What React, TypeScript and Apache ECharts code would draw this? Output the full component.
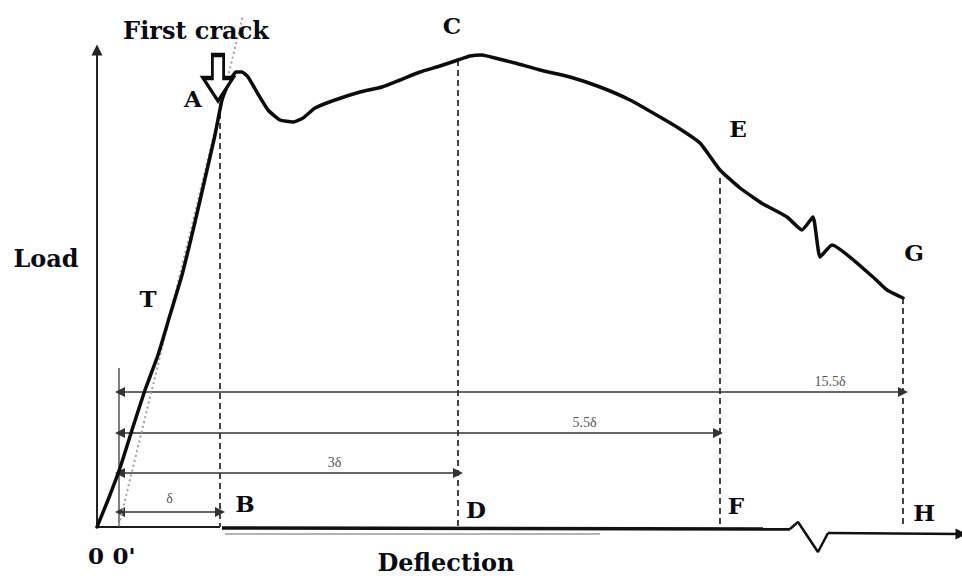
import React, { useEffect, useRef } from 'react';
import * as echarts from 'echarts';

// Load–deflection curve (schematic units: deflection → right, load → up)
const curveDeflection = [0, 11, 23, 35, 48, 61, 73, 85, 98, 110, 118, 125, 132, 139, 145, 151, 161, 171, 183, 196, 206, 218, 238, 263, 285, 303, 323, 343, 361, 373, 385, 398, 418, 443, 473, 503, 533, 563, 583, 603, 623, 643, 660, 666, 690, 705, 716, 723, 735, 776, 790, 806];
const curveLoad = [0, 27, 59, 97, 137, 172, 212, 252, 305, 357, 392, 427, 445, 455, 455, 450, 433, 417, 407, 405, 409, 419, 427, 435, 440, 447, 455, 461, 467, 471, 472, 469, 464, 457, 450, 440, 427, 410, 398, 384, 357, 339, 327, 323, 310, 297, 310, 270, 282, 250, 237, 229];

// Tangent (initial stiffness) line from O'
const tangentDeflection = [22, 146];
const tangentLoad = [2, 512];

// Vertical drop lines at B, D, F, H
const dropDeflection = [123, 361, 623, 806];
const dropLoad = [424, 467, 349, 229];

// Dimension arrows measured from O'
const dimOrigin = 22;
const dimLabels = ['δ', '3δ', '5.5δ', '15.5δ'];
const dimEnd = [123, 361, 621, 806];
const dimLevel = [15, 54, 94, 135];

// Point labels
const pointNames = ['A', 'C', 'E', 'G', 'T', 'B', 'D', 'F', 'H', '0', "0'"];
const pointPos: number[][] = [[96, 429], [355, 502], [641, 399], [817, 275], [51, 229], [148, 24], [379, 18], [639, 22], [827, 15], [-1, -28], [27, -28]];

const titleText = 'First crack';
const yTitle = 'Load';
const xTitle = 'Deflection';

const INK = '#0a0a14';
const SERIF = '"DejaVu Serif", "Liberation Serif", serif';

export default function App() {
  const ref = useRef<HTMLDivElement>(null);
  useEffect(() => {
    if (!ref.current) return;
    const chart = echarts.init(ref.current, undefined, { renderer: 'svg' });

    const hidden = { color: 'rgba(0,0,0,0)', opacity: 1 };
    const boldLabel = {
      show: true,
      position: 'inside',
      formatter: '{b}',
      fontFamily: SERIF,
      fontWeight: 'bold',
      fontSize: 23,
      color: INK,
      opacity: 1,
      textBorderWidth: 0,
    };

    const option: any = {
      animation: false,
      backgroundColor: '#ffffff',
      grid: { left: 0, right: 0, top: 0, bottom: 0, containLabel: false },
      xAxis: { type: 'value', min: -97, max: 865, show: false },
      yAxis: { type: 'value', min: -49, max: 527, show: false },
      series: [
        // faint scan line under x-axis
        {
          type: 'lines', coordinateSystem: 'cartesian2d', silent: true,
          lineStyle: { color: '#9a9a9a', width: 1.5, opacity: 1 },
          data: [{ coords: [[128, -7], [503, -7]] }],
        },
        // y axis
        {
          type: 'lines', coordinateSystem: 'cartesian2d', silent: true,
          symbol: ['none', 'triangle'], symbolSize: 11,
          lineStyle: { color: '#222', width: 2, opacity: 1 },
          data: [{ coords: [[0, 0], [0, 477]] }],
        },
        // x axis pieces
        {
          type: 'lines', coordinateSystem: 'cartesian2d', silent: true,
          lineStyle: { color: '#1a1a1a', width: 2.2, opacity: 1 },
          data: [{ coords: [[0, 0], [123, 0]] }],
        },
        {
          type: 'lines', coordinateSystem: 'cartesian2d', silent: true,
          lineStyle: { color: '#111', width: 3.5, opacity: 1 },
          data: [{ coords: [[125, -1], [693, -2]] }],
        },
        {
          type: 'line', silent: true, showSymbol: false,
          lineStyle: { color: '#111', width: 2.5 },
          data: [[693, -2], [701, 5], [721, -25], [731, -6]],
        },
        {
          type: 'lines', coordinateSystem: 'cartesian2d', silent: true,
          symbol: ['none', 'triangle'], symbolSize: 11,
          lineStyle: { color: '#111', width: 2.5, opacity: 1 },
          data: [{ coords: [[731, -6], [864, -7]] }],
        },
        // O' reference line
        {
          type: 'lines', coordinateSystem: 'cartesian2d', silent: true,
          lineStyle: { color: '#555', width: 1.5, opacity: 1 },
          data: [{ coords: [[dimOrigin, 0], [dimOrigin, 159]] }],
        },
        // dashed drop lines
        {
          type: 'lines', coordinateSystem: 'cartesian2d', silent: true,
          lineStyle: { color: '#444', width: 2, type: [6, 4], opacity: 1 },
          data: dropDeflection.map((x, i) => ({ coords: [[x, dropLoad[i]], [x, 0]] })),
        },
        // tangent dotted line
        {
          type: 'line', silent: true, showSymbol: false,
          lineStyle: { color: '#a0a0a0', width: 2, type: [2, 3] },
          data: tangentDeflection.map((x, i) => [x, tangentLoad[i]]),
        },
        // dimension arrows
        {
          type: 'lines', coordinateSystem: 'cartesian2d', silent: true,
          symbol: ['triangle', 'triangle'], symbolSize: 10,
          lineStyle: { color: '#333', width: 1.5, opacity: 1 },
          data: dimEnd.map((x, i) => ({ coords: [[dimOrigin + 1, dimLevel[i]], [x, dimLevel[i]]] })),
        },
        // dimension labels
        {
          type: 'scatter', silent: true, symbolSize: 1,
          itemStyle: hidden,
          label: {
            show: true, position: 'inside', formatter: '{b}', opacity: 1,
            fontFamily: '"Liberation Serif", "DejaVu Serif", serif', fontSize: 14, color: '#555',
          },
          data: dimLabels.map((n, i) => ({
            name: n,
            value: [(dimOrigin + dimEnd[i]) / 2 + (i === 0 ? 0 : i === 1 ? 46 : i === 2 ? 166 : 319), dimLevel[i] + (i === 0 ? 14 : 11)],
          })),
        },
        // main load-deflection curve
        {
          type: 'line', silent: true, showSymbol: false, smooth: 0.15, z: 5,
          lineStyle: { color: '#0c0c0c', width: 3.5, join: 'round', cap: 'round' },
          data: curveDeflection.map((x, i) => [x, curveLoad[i]]),
        },
        // hollow "first crack" arrow
        {
          type: 'scatter', silent: true, z: 6,
          symbol: 'path://M10,0 L22,0 L22,24 L32,24 L16,48 L0,24 L10,24 Z',
          symbolSize: [30, 46],
          itemStyle: { color: '#ffffff', borderColor: '#0c0c0c', borderWidth: 3.5, opacity: 1 },
          data: [[121, 449]],
        },
        // point labels
        {
          type: 'scatter', silent: true, symbolSize: 1, z: 7,
          itemStyle: hidden,
          label: boldLabel,
          data: pointNames.map((n, i) => ({ name: n, value: pointPos[i] })),
        },
        // titles
        {
          type: 'scatter', silent: true, symbolSize: 1, z: 7,
          itemStyle: hidden,
          label: { ...boldLabel, fontSize: 24 },
          data: [
            { name: titleText, value: [99, 497] },
            { name: yTitle, value: [-51, 269] },
            { name: xTitle, value: [349, -35] },
          ],
        },
      ],
    };
    chart.setOption(option);
    return () => chart.dispose();
  }, []);

  return (
    <div
      ref={ref}
      style={{ position: 'fixed', left: 0, top: 0, width: 962, height: 576, background: '#fff' }}
    />
  );
}
